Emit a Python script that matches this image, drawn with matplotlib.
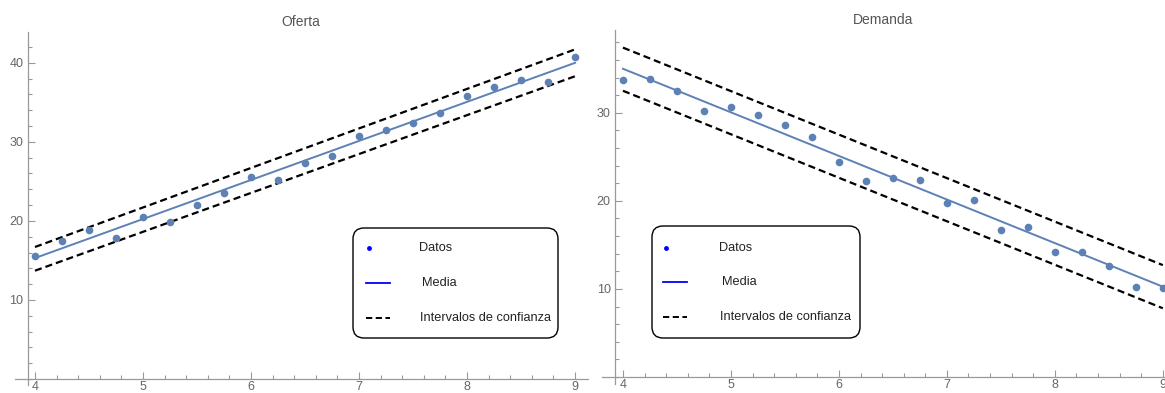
import matplotlib
matplotlib.use("Agg")
from matplotlib import pyplot as plt
from matplotlib.lines import Line2D
from matplotlib.patches import FancyBboxPatch
from matplotlib.ticker import MultipleLocator
from matplotlib.transforms import IdentityTransform

plt.rcParams["font.family"] = ["Liberation Sans", "DejaVu Sans"]

# Data
x = [4.0, 4.25, 4.5, 4.75, 5.0, 5.25, 5.5, 5.75, 6.0, 6.25, 6.5,
     6.75, 7.0, 7.25, 7.5, 7.75, 8.0, 8.25, 8.5, 8.75, 9.0]
oferta = [15.6, 17.5, 18.9, 17.9, 20.5, 19.8, 22.0, 23.5, 25.6, 25.2, 27.3,
          28.2, 30.8, 31.5, 32.4, 33.7, 35.8, 37.0, 37.8, 37.6, 40.8]
demanda = [33.75, 33.8, 32.5, 30.2, 30.7, 29.8, 28.6, 27.2, 24.4, 22.3, 22.6,
           22.4, 19.8, 20.1, 16.7, 17.0, 14.2, 14.2, 12.6, 10.2, 10.1]

x_lin = [4.0, 9.0]
oferta_media = [15.3, 40.0]
oferta_sup = [16.7, 41.7]
oferta_inf = [13.7, 38.3]
demanda_media = [35.0, 10.25]
demanda_sup = [37.4, 12.7]
demanda_inf = [32.5, 7.8]

titles = ["Oferta", "Demanda"]
labels = ["Datos", "Media", "Intervalos de confianza"]

W, H = 1165, 393
pt_col = "#5E81B5"
ax_col = "#999999"
lab_col = "#666666"
dash = (0, (3.2, 1.8))

fig = plt.figure(figsize=(W / 100, H / 100), dpi=100)


def fx(px):
    return px / W


def fy(py):
    return 1 - py / H


def setup(ax, xlim, ylim, yaxis_x, yticks):
    ax.set_xlim(xlim)
    ax.set_ylim(ylim)
    ax.patch.set_alpha(0)
    for s in ["top", "right"]:
        ax.spines[s].set_visible(False)
    ax.spines["left"].set_position(("data", yaxis_x))
    ax.spines["bottom"].set_position(("data", 0))
    for s in ["left", "bottom"]:
        ax.spines[s].set_color(ax_col)
        ax.spines[s].set_linewidth(0.9)
    ax.set_xticks([4, 5, 6, 7, 8, 9])
    ax.xaxis.set_minor_locator(MultipleLocator(0.2))
    ax.set_yticks(yticks)
    ax.yaxis.set_minor_locator(MultipleLocator(2))
    ax.tick_params(which="both", direction="in", colors=ax_col,
                   labelcolor=lab_col, labelsize=9, width=0.8)
    ax.tick_params(which="major", length=5)
    ax.tick_params(which="minor", length=3)
    ax.tick_params(axis="x", pad=1.5)
    ax.tick_params(axis="y", pad=3)


def legend(box, rows, hx, tx):
    # box = (left, top, right, bottom) in pixels
    l, t, r, b = box
    fig.patches.append(FancyBboxPatch(
        (l, H - b), r - l, b - t, transform=IdentityTransform(),
        boxstyle="round,pad=0,rounding_size=11",
        facecolor="white", edgecolor="black", lw=1.0, zorder=5))
    fig.add_artist(Line2D([fx(hx + 3)], [fy(rows[0])], marker="o",
                          color="blue", markersize=3.5, markeredgewidth=0,
                          transform=fig.transFigure, zorder=6))
    fig.add_artist(Line2D([fx(hx), fx(hx + 24)], [fy(rows[1])] * 2,
                          color="blue", lw=1.3, transform=fig.transFigure,
                          zorder=6))
    fig.add_artist(Line2D([fx(hx), fx(hx + 24)], [fy(rows[2])] * 2,
                          color="black", lw=1.4, linestyle=dash,
                          transform=fig.transFigure, zorder=6))
    offs = [-1, 2, 0]
    for lab, ry, o in zip(labels, rows, offs):
        fig.text(fx(tx + o), fy(ry), lab, ha="left", va="center",
                 fontsize=9.2, color="#222222", zorder=7)


# Oferta
ax1 = fig.add_axes([fx(15), fy(385), fx(588 - 15), (385 - 32) / H])
setup(ax1, (3.815, 9.12), (-0.76, 43.9), 3.932, [10, 20, 30, 40])
ax1.plot(x_lin, oferta_sup, color="black", lw=1.6, linestyle=dash)
ax1.plot(x_lin, oferta_inf, color="black", lw=1.6, linestyle=dash)
ax1.plot(x_lin, oferta_media, color=pt_col, lw=1.4)
ax1.plot(x, oferta, "o", color=pt_col, markersize=5.5, markeredgewidth=0)
legend((353, 228, 558, 338), [248, 283, 318], 366, 420)
fig.text(fx(301), fy(22), titles[0], ha="center", va="center",
         fontsize=10, color="#555555")

# Demanda
ax2 = fig.add_axes([fx(602), fy(384), fx(1165 - 602), (384 - 30) / H])
setup(ax2, (3.806, 9.02), (-0.8, 39.4), 3.926, [10, 20, 30])
ax2.plot(x_lin, demanda_sup, color="black", lw=1.6, linestyle=dash)
ax2.plot(x_lin, demanda_inf, color="black", lw=1.6, linestyle=dash)
ax2.plot(x_lin, demanda_media, color=pt_col, lw=1.4)
ax2.plot(x, demanda, "o", color=pt_col, markersize=5.5, markeredgewidth=0,
         clip_on=False)
legend((652, 226, 860, 338), [248, 282, 317], 663, 720)
fig.text(fx(883), fy(20), titles[1], ha="center", va="center",
         fontsize=10, color="#555555")

fig.savefig("out.png", dpi=100)
